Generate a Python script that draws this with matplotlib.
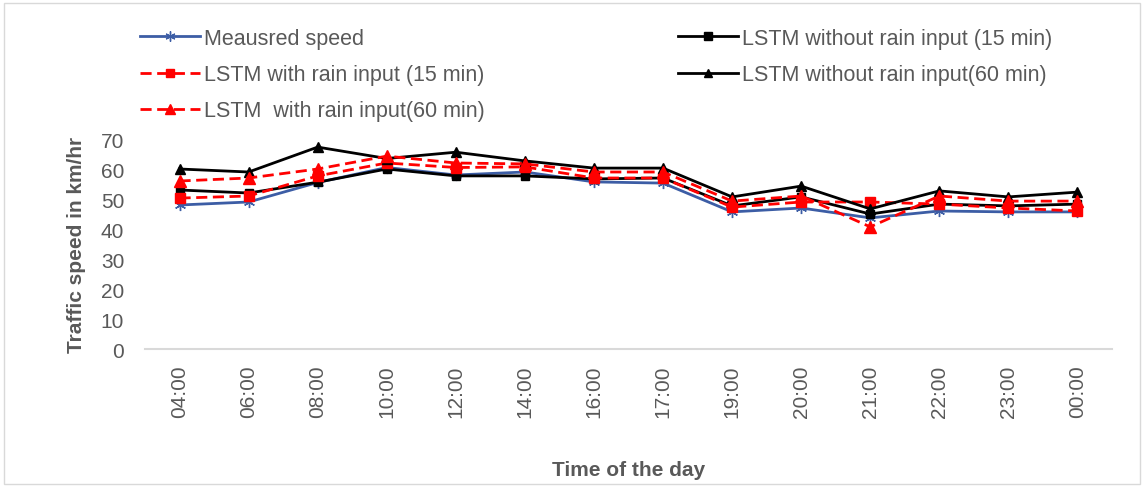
import matplotlib
matplotlib.use("Agg")
import matplotlib.pyplot as plt
from matplotlib.patches import Rectangle

plt.rcParams['font.family'] = ['Liberation Sans', 'DejaVu Sans']

times = ["04:00", "06:00", "08:00", "10:00", "12:00", "14:00", "16:00",
         "17:00", "19:00", "20:00", "21:00", "22:00", "23:00", "00:00"]

measured = [48, 49, 55.5, 60.5, 58, 59, 55.7, 55.3, 45.7, 47, 43.7, 46, 45.7, 45.7]
no_rain_15 = [53, 52, 55.6, 60, 57.7, 57.7, 56.7, 57, 47.7, 50.7, 45, 48.3, 47.7, 48.3]
rain_15 = [50.3, 51, 57.7, 62, 60.5, 60.7, 57, 57, 47.3, 49, 49, 48.3, 47, 46]
no_rain_60 = [60, 59, 67.3, 63.5, 65.6, 62.7, 60.3, 60.3, 50.7, 54.3, 46.7, 52.7, 50.7, 52.3]
rain_60 = [56, 57, 60, 64.3, 62, 61.7, 59, 59, 49.3, 51, 40.7, 51, 49.3, 49.3]

TEXT = "#595959"

fig = plt.figure(figsize=(11.44, 4.89), dpi=100)
ax = fig.add_axes([145 / 1144, 1 - 350 / 489, (1112 - 145) / 1144, (350 - 140) / 489])

x = list(range(len(times)))
dash = (0, (4, 2))

ax.plot(x, measured, color="#3C5DA5", lw=2.0, marker=(6, 2, 0), ms=8, mew=1.0,
        label="Meausred speed", zorder=2)
ax.plot(x, no_rain_15, color="black", lw=2.0, marker="s", ms=6,
        label="LSTM without rain input (15 min)", zorder=3)
ax.plot(x, rain_15, color="#FF0000", lw=2.0, ls=dash, marker="s", ms=7,
        label="LSTM with rain input (15 min)", zorder=4)
ax.plot(x, no_rain_60, color="black", lw=2.0, marker="^", ms=7,
        label="LSTM without rain input(60 min)", zorder=5)
ax.plot(x, rain_60, color="#FF0000", lw=2.0, ls=dash, marker="^", ms=8,
        label="LSTM  with rain input(60 min)", zorder=6)

ax.set_xlim(-0.5, len(times) - 0.5)
ax.set_ylim(0, 70)
ax.set_yticks(range(0, 71, 10))
ax.set_xticks(x)
ax.set_xticklabels(times, rotation=90)
ax.tick_params(axis="both", length=0, labelsize=15, labelcolor=TEXT)
ax.tick_params(axis="x", pad=11)
ax.tick_params(axis="y", pad=15)

for side in ("top", "right", "left"):
    ax.spines[side].set_visible(False)
ax.spines["bottom"].set_color("#D9D9D9")
ax.spines["bottom"].set_linewidth(1.5)

ax.set_ylabel("Traffic speed in km/hr", fontsize=15, fontweight="bold", color=TEXT, labelpad=11)
ax.set_xlabel("Time of the day", fontsize=15, fontweight="bold", color=TEXT, labelpad=31)

handles, labels = ax.get_legend_handles_labels()
order1 = [0, 2, 4]
order2 = [1, 3]
leg_kw = dict(frameon=False, fontsize=15.5, handlelength=2.8, handletextpad=0.15,
              labelspacing=0.7, borderaxespad=0, borderpad=0, labelcolor=TEXT,
              markerscale=0.9)
leg1 = fig.legend([handles[i] for i in order1], [labels[i] for i in order1],
                  loc="upper left", bbox_to_anchor=(140 / 1144, 1 - 29 / 489), **leg_kw)
leg2 = fig.legend([handles[i] for i in order2], [labels[i] for i in order2],
                  loc="upper left", bbox_to_anchor=(678 / 1144, 1 - 29 / 489), **leg_kw)

fig.patches.append(Rectangle((4 / 1144, 4 / 489), 1136 / 1144, 481 / 489,
                             transform=fig.transFigure, fill=False,
                             edgecolor="#D9D9D9", lw=1))

fig.savefig("out.png", dpi=100, facecolor="white")
